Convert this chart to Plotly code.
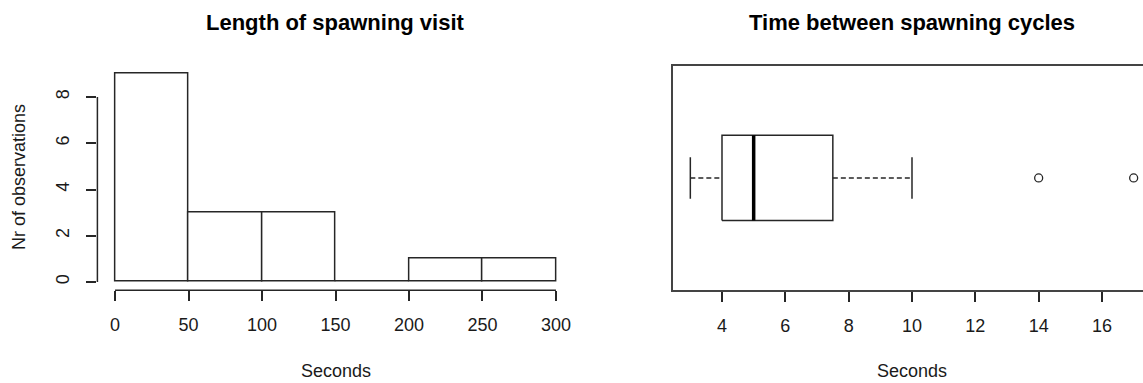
import plotly.graph_objects as go

W, H = 1143, 383

# ---------------- data ----------------
# Histogram: length of spawning visit
bin_edges = [0, 50, 100, 150, 200, 250, 300]
counts = [9, 3, 3, 0, 1, 1]
hist_x_ticks = [0, 50, 100, 150, 200, 250, 300]
hist_y_ticks = [0, 2, 4, 6, 8]

# Boxplot: time between spawning cycles
box_lower_whisker = 3
box_q1 = 4
box_median = 5
box_q3 = 7.5
box_upper_whisker = 10
box_outliers = [14, 17]
box_x_ticks = [4, 6, 8, 10, 12, 14, 16]

# ---------------- styling / layout constants ----------------
FONT = "Liberation Sans, Arial, sans-serif"
LINE = "#262626"
LW = 1.5

def px_x(p):
    return p / W

def px_y(p):
    return (H - p) / H

y_dom = [px_y(290.3), px_y(65.6)]
left_x_dom = [px_x(97.4), px_x(573.6)]
right_x_dom = [px_x(672.6), 1.0]

centers = [(a + b) / 2 for a, b in zip(bin_edges[:-1], bin_edges[1:])]
widths = [b - a for a, b in zip(bin_edges[:-1], bin_edges[1:])]

fig = go.Figure()

fig.add_trace(go.Bar(
    x=centers, y=counts, width=widths,
    marker=dict(color="white", line=dict(color=LINE, width=LW)),
    xaxis="x", yaxis="y", showlegend=False, hoverinfo="x+y",
))

# boxplot drawn from the summary statistics
BOX_POS = 1.0
BOX_HALF = 0.205
CAP_HALF = 0.1

fig.add_trace(go.Scatter(
    x=[box_q1, box_q3, box_q3, box_q1, box_q1],
    y=[BOX_POS - BOX_HALF, BOX_POS - BOX_HALF, BOX_POS + BOX_HALF, BOX_POS + BOX_HALF, BOX_POS - BOX_HALF],
    mode="lines", line=dict(color=LINE, width=LW),
    xaxis="x2", yaxis="y2", showlegend=False, hoverinfo="skip",
))
for lo, hi in [(box_lower_whisker, box_q1), (box_q3, box_upper_whisker)]:
    fig.add_trace(go.Scatter(
        x=[lo, hi], y=[BOX_POS, BOX_POS], mode="lines",
        line=dict(color=LINE, width=LW, dash="5px,3px"),
        xaxis="x2", yaxis="y2", showlegend=False, hoverinfo="skip",
    ))
for w in [box_lower_whisker, box_upper_whisker]:
    fig.add_trace(go.Scatter(
        x=[w, w], y=[BOX_POS - CAP_HALF, BOX_POS + CAP_HALF], mode="lines",
        line=dict(color=LINE, width=LW),
        xaxis="x2", yaxis="y2", showlegend=False, hoverinfo="skip",
    ))
fig.add_trace(go.Scatter(
    x=[box_median, box_median], y=[BOX_POS - BOX_HALF, BOX_POS + BOX_HALF], mode="lines",
    line=dict(color="black", width=3.5),
    xaxis="x2", yaxis="y2", showlegend=False, hoverinfo="skip",
))
fig.add_trace(go.Scatter(
    x=box_outliers, y=[BOX_POS] * len(box_outliers), mode="markers",
    marker=dict(symbol="circle-open", size=8, color=LINE, line=dict(width=1.3)),
    xaxis="x2", yaxis="y2", showlegend=False, hoverinfo="x", cliponaxis=False,
))

tickfont = dict(family=FONT, size=18, color="#1a1a1a")

fig.update_layout(
    width=W, height=H,
    margin=dict(l=0, r=0, t=0, b=0),
    paper_bgcolor="white", plot_bgcolor="white",
    bargap=0,
    xaxis=dict(domain=left_x_dom, range=[-12, 312], tickvals=hist_x_ticks,
               ticks="outside", ticklen=10, tickwidth=LW, tickcolor=LINE,
               showline=False, showgrid=False, zeroline=False,
               tickfont=tickfont, ticklabelstandoff=8, anchor="y"),
    yaxis=dict(domain=y_dom, range=[-0.36, 9.36], tickvals=hist_y_ticks,
               ticks="outside", ticklen=10, tickwidth=LW, tickcolor=LINE,
               tickangle=-90, showline=False, showgrid=False, zeroline=False,
               tickfont=tickfont, ticklabelstandoff=10, anchor="x"),
    xaxis2=dict(domain=right_x_dom, range=[2.44, 17.295], tickvals=box_x_ticks,
                ticks="outside", ticklen=10, tickwidth=LW, tickcolor=LINE,
                showline=True, linecolor="#444", linewidth=LW, mirror=True,
                showgrid=False, zeroline=False,
                tickfont=tickfont, ticklabelstandoff=8, anchor="y2"),
    yaxis2=dict(domain=y_dom, range=[0.46, 1.54], showticklabels=False, ticks="",
                showline=True, linecolor="#444", linewidth=LW, mirror=False,
                showgrid=False, zeroline=False, anchor="x2"),
    font=dict(family=FONT, color="black"),
)

# R-style axis lines spanning only the tick range
fig.add_shape(type="line", xref="x", yref="paper",
              x0=min(hist_x_ticks), x1=max(hist_x_ticks), y0=y_dom[0], y1=y_dom[0],
              line=dict(color=LINE, width=LW))
fig.add_shape(type="line", xref="paper", yref="y",
              x0=left_x_dom[0], x1=left_x_dom[0], y0=min(hist_y_ticks), y1=max(hist_y_ticks),
              line=dict(color=LINE, width=LW))

# titles
title_font = dict(family=FONT, size=22, color="black", weight="bold")
lab_font = dict(family=FONT, size=18, color="#1a1a1a")
fig.add_annotation(text="Length of spawning visit", xref="paper", yref="paper",
                   x=sum(left_x_dom) / 2, y=px_y(23), showarrow=False,
                   xanchor="center", yanchor="middle", font=title_font)
fig.add_annotation(text="Time between spawning cycles", xref="paper", yref="paper",
                   x=px_x(911.5), y=px_y(23), showarrow=False,
                   xanchor="center", yanchor="middle", font=title_font)
fig.add_annotation(text="Seconds", xref="paper", yref="paper",
                   x=sum(left_x_dom) / 2, y=px_y(371), showarrow=False,
                   xanchor="center", yanchor="middle", font=lab_font)
fig.add_annotation(text="Seconds", xref="paper", yref="paper",
                   x=px_x(911.5), y=px_y(371), showarrow=False,
                   xanchor="center", yanchor="middle", font=lab_font)
fig.add_annotation(text="Nr of observations", xref="paper", yref="paper",
                   x=px_x(19), y=px_y(177), showarrow=False, textangle=-90,
                   xanchor="center", yanchor="middle", font=lab_font)

fig.write_html("out.html",
               config={"displayModeBar": False},
               post_script="document.body.style.margin='0';document.body.style.overflow='hidden';")
